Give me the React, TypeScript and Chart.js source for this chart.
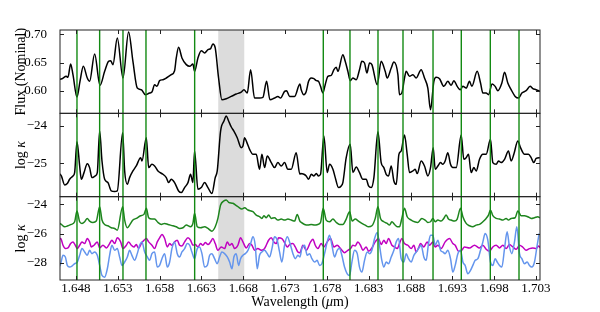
import React, { useEffect, useRef } from "react";
import { Chart, registerables } from "chart.js";

Chart.register(...registerables);

const FONT = "'Liberation Serif', 'DejaVu Serif', serif";

// ---- axes / ticks ----
const xRange = [1.64609, 1.70348];
const xTickValues = [1.648, 1.653, 1.658, 1.663, 1.668, 1.673, 1.678, 1.683, 1.688, 1.693, 1.698, 1.703];
const fluxRange = [0.55988, 0.70762];
const fluxTicks = [0.6, 0.65, 0.7];
const kappaRange = [-25.8875, -23.671];
const kappaTicks = [-25, -24];
const opacRange = [-29.185, -23.477];
const opacTicks = [-28, -26, -24];

// ---- marked lines and shaded band (wavelength, micron) ----
const lineCenters = [1.64812, 1.65083, 1.65362, 1.65637, 1.66219, 1.67757, 1.68076, 1.68411, 1.6871, 1.69069, 1.69407, 1.69754, 1.70097];
const bandEdges = [1.66501, 1.66812];

// ---- panel 1: flux ----
const fluxWave = [
  1.64585, 1.64633, 1.64684, 1.64704, 1.64736, 1.64764, 1.64812, 1.64848, 1.64888, 1.64935,
  1.64963, 1.65023, 1.65087, 1.65143, 1.6519, 1.65214, 1.65242, 1.65294, 1.65362, 1.65429,
  1.65481, 1.65533, 1.65581, 1.65629, 1.6568, 1.65708, 1.6574, 1.65768, 1.658, 1.6584,
  1.6588, 1.65939, 1.65979, 1.65999, 1.66027, 1.66067, 1.66119, 1.66159, 1.66198, 1.66218,
  1.66258, 1.66298, 1.66338, 1.66378, 1.6641, 1.66437, 1.66465, 1.66505, 1.66545, 1.66597,
  1.66657, 1.66716, 1.66776, 1.66808, 1.66848, 1.66888, 1.66935, 1.66995, 1.67035, 1.67079,
  1.67119, 1.67174, 1.67214, 1.67246, 1.67294, 1.67318, 1.67354, 1.67414, 1.67477,
  1.67493, 1.67525, 1.67553, 1.67581, 1.67613, 1.67645, 1.67673, 1.677, 1.67724, 1.67752,
  1.6778, 1.67812, 1.67852, 1.67884, 1.67912, 1.67932, 1.67991, 1.68019, 1.68051, 1.68079,
  1.68111, 1.68151, 1.6819, 1.68218, 1.6825, 1.68278, 1.6831, 1.68338, 1.68402, 1.68449,
  1.68497, 1.68521, 1.68569, 1.68601, 1.68649, 1.68668, 1.68696, 1.68728, 1.68748, 1.68788,
  1.68828, 1.68868, 1.68927, 1.68967, 1.69007, 1.69039, 1.69079, 1.69107, 1.69147, 1.69198,
  1.69246, 1.69286, 1.69318, 1.69358, 1.69394, 1.69426, 1.69465, 1.69505, 1.69533, 1.69597,
  1.69637, 1.69665, 1.69704, 1.69732, 1.69776, 1.69812, 1.69844, 1.69892, 1.69924, 1.69963,
  1.70003, 1.70051, 1.70091, 1.70131, 1.70182, 1.7023, 1.70262, 1.70302, 1.70346,
];
const fluxValue = [
  0.6195, 0.6213, 0.6255, 0.6237, 0.6474, 0.6284, 0.5888, 0.6166, 0.6432, 0.6225,
  0.6166, 0.6651, 0.6095, 0.6343, 0.6521, 0.6533, 0.6462, 0.6935, 0.6225, 0.7042,
  0.6521, 0.6047, 0.6018, 0.5929, 0.5959, 0.5976, 0.6107, 0.6077, 0.6178, 0.6195,
  0.6225, 0.6284, 0.6355, 0.658, 0.677, 0.658, 0.6462, 0.6432, 0.6474, 0.6343,
  0.658, 0.671, 0.6669, 0.6728, 0.6746, 0.6829, 0.6758, 0.6225, 0.584, 0.5858,
  0.5899, 0.5941, 0.5976, 0.6018, 0.5959, 0.6373, 0.587, 0.587, 0.5882, 0.6166,
  0.584, 0.587, 0.5899, 0.587, 0.5988, 0.6, 0.5899, 0.5899, 0.6118,
  0.6018, 0.5929, 0.5988, 0.6166, 0.6225, 0.6213, 0.6178, 0.6166, 0.6077, 0.5959,
  0.6107, 0.6255, 0.6272, 0.6373, 0.6414, 0.6343, 0.6639, 0.6521, 0.6343, 0.6178,
  0.6225, 0.6195, 0.6373, 0.6521, 0.6491, 0.6314, 0.6491, 0.6462, 0.6107, 0.6521,
  0.6343, 0.6225, 0.6403, 0.6509, 0.6284, 0.5929, 0.5959, 0.6225, 0.6343, 0.6255,
  0.6284, 0.6225, 0.6373, 0.6225, 0.6047, 0.5663, 0.6166, 0.6237, 0.6213, 0.6077,
  0.6166, 0.6095, 0.6178, 0.6077, 0.6018, 0.6077, 0.6047, 0.6166, 0.6077, 0.6343,
  0.6136, 0.5959, 0.5959, 0.5929, 0.6118, 0.6077, 0.6, 0.6136, 0.6326, 0.6136,
  0.6018, 0.5899, 0.587, 0.5959, 0.6, 0.6077, 0.6036, 0.6018, 0.5988,
];

// ---- panel 2: total log kappa ----
const kappaWave = [
  1.64585, 1.64625, 1.64665, 1.64696, 1.64724, 1.64764, 1.64784, 1.64812, 1.64844, 1.64864,
  1.64896, 1.64935, 1.64963, 1.64991, 1.65031, 1.65055, 1.65083, 1.65111, 1.65143, 1.65182,
  1.65222, 1.65262, 1.65294, 1.65358, 1.65382, 1.65414, 1.65441, 1.65481, 1.65521, 1.65573,
  1.65589, 1.65641, 1.65669, 1.65708, 1.6574, 1.6578, 1.6584, 1.6588, 1.65908, 1.65939,
  1.65979, 1.66027, 1.66059, 1.66099, 1.66139, 1.6617, 1.66198, 1.66218, 1.66258, 1.66298,
  1.66338, 1.66378, 1.66425, 1.66465, 1.66489, 1.66529, 1.66569, 1.66597, 1.66625, 1.66657,
  1.66688, 1.66728, 1.66776, 1.66796, 1.66816, 1.66844, 1.66876, 1.66916, 1.66955, 1.66995,
  1.67023, 1.67055, 1.67087, 1.67135, 1.67174, 1.67214, 1.67254, 1.67294, 1.67334, 1.67374,
  1.67433, 1.67477,
  1.67485, 1.67525, 1.67553, 1.67581, 1.67613, 1.67645, 1.67673, 1.677, 1.67724, 1.67764,
  1.67804, 1.67832, 1.67872, 1.679, 1.67939, 1.67971, 1.67991, 1.68031, 1.68079, 1.68111,
  1.68151, 1.6819, 1.6823, 1.6827, 1.68298, 1.6833, 1.68362, 1.6841, 1.68449, 1.68481,
  1.68509, 1.68537, 1.68569, 1.68601, 1.68629, 1.68661, 1.68688, 1.68728, 1.6876, 1.68788,
  1.68828, 1.68856, 1.6888, 1.68927, 1.68967, 1.69007, 1.69039, 1.69071, 1.69095, 1.69127,
  1.69159, 1.69186, 1.69214, 1.69246, 1.69278, 1.69306, 1.69346, 1.69406, 1.69437, 1.69465,
  1.69493, 1.69525, 1.69557, 1.69585, 1.69625, 1.69665, 1.69704, 1.69756, 1.69784, 1.69824,
  1.69852, 1.69884, 1.69924, 1.69971, 1.70003, 1.70035, 1.70083, 1.70115, 1.70163, 1.7021,
  1.70242, 1.70274, 1.70302, 1.70346,
];
const kappaValue = [
  -25.248, -25.336, -25.575, -25.54, -25.425, -25.336, -25.248, -24.425, -25.071, -25.425,
  -25.248, -25.009, -25.115, -25.381, -25.336, -25.248, -24.142, -24.938, -25.425, -25.513,
  -25.735, -25.752, -25.735, -24.186, -25.204, -25.558, -25.381, -25.204, -25.071, -24.85,
  -24.938, -24.319, -25.115, -25.027, -25.071, -25.204, -25.292, -25.381, -25.513, -25.425,
  -25.513, -25.735, -25.779, -25.646, -25.513, -25.292, -25.513, -24.673, -25.69, -25.646,
  -25.513, -25.646, -25.805, -25.381, -25.204, -24.142, -23.876, -23.743, -23.876, -24.035,
  -24.142, -24.319, -24.584, -24.54, -24.319, -24.451, -24.628, -24.761, -24.761, -25.159,
  -24.761, -25.115, -24.805, -24.982, -25.115, -24.982, -25.071, -24.982, -25.159, -25.159,
  -24.717, -25.292,
  -25.274, -25.292, -25.336, -25.425, -25.292, -25.336, -25.274, -25.336, -25.292, -24.274,
  -25.248, -25.027, -25.159, -25.381, -25.646, -25.602, -25.513, -24.85, -24.496, -25.248,
  -25.097, -25.248, -25.425, -25.425, -25.602, -25.646, -25.381, -24.159, -24.982, -25.115,
  -25.292, -25.336, -25.071, -25.469, -25.558, -24.761, -24.673, -24.248, -24.761, -25.248,
  -25.204, -25.159, -25.274, -24.938, -25.071, -25.336, -25.115, -24.584, -25.159, -25.071,
  -24.982, -25.027, -24.938, -24.717, -25.027, -25.115, -25.115, -24.248, -24.894, -24.85,
  -24.761, -25.248, -25.115, -25.204, -24.894, -24.761, -24.761, -24.363, -24.982, -25.027,
  -24.938, -24.982, -24.894, -24.673, -24.938, -24.761, -24.407, -24.584, -24.761, -24.761,
  -24.85, -24.982, -24.867, -24.85,
];

// ---- panel 3: individual opacity sources ----
const greenWave = [
  1.64585, 1.64625, 1.64665, 1.64704, 1.64744, 1.64784, 1.64812, 1.64844, 1.64872, 1.64904,
  1.64935, 1.64963, 1.65003, 1.65043, 1.65083, 1.65111, 1.65143, 1.65182, 1.65222, 1.65262,
  1.65294, 1.65358, 1.65382, 1.65414, 1.65441, 1.65481, 1.65521, 1.65573, 1.65613, 1.65641,
  1.65669, 1.65708, 1.6574, 1.6578, 1.6582, 1.6586, 1.659, 1.65959, 1.65999, 1.66039,
  1.66079, 1.66119, 1.6617, 1.66198, 1.66218, 1.6625, 1.6629, 1.66338, 1.66378, 1.66425,
  1.66465, 1.66497, 1.66529, 1.66569, 1.66597, 1.66625, 1.66676, 1.66736, 1.66784, 1.66816,
  1.66856, 1.66916, 1.66955, 1.66995, 1.67023, 1.67047, 1.67075, 1.67103, 1.67135, 1.67174,
  1.67214, 1.67254, 1.67294, 1.67334, 1.67374, 1.67414, 1.67445, 1.67477,
  1.67493, 1.67533, 1.67573, 1.67613, 1.67653, 1.67692, 1.67724, 1.67756, 1.67792, 1.67832,
  1.67872, 1.67912, 1.67951, 1.67991, 1.68031, 1.68071, 1.68103, 1.68139, 1.68178, 1.68218,
  1.68258, 1.68298, 1.68338, 1.68378, 1.6841, 1.68441, 1.68481, 1.68521, 1.68549, 1.68577,
  1.68609, 1.68641, 1.68668, 1.68696, 1.68728, 1.6876, 1.68808, 1.68848, 1.68888, 1.68935,
  1.68975, 1.69007, 1.69039, 1.69067, 1.69095, 1.69127, 1.69166, 1.69198, 1.69226, 1.69254,
  1.69286, 1.69326, 1.69358, 1.69398, 1.69426, 1.69465, 1.69505, 1.69545, 1.69585, 1.69625,
  1.69665, 1.69704, 1.69732, 1.69756, 1.69784, 1.69824, 1.69864, 1.69904, 1.69943, 1.69971,
  1.70003, 1.70051, 1.70083, 1.70123, 1.70163, 1.70202, 1.70242, 1.70282, 1.70322, 1.70346,
];
const greenValue = [
  -25.241, -25.379, -25.54, -25.471, -25.379, -25.195, -24.46, -25.195, -25.31, -25.195,
  -24.966, -25.149, -25.241, -25.149, -24.161, -25.08, -25.379, -25.471, -25.609, -25.655,
  -25.77, -24.161, -25.08, -25.609, -25.425, -25.08, -24.966, -24.782, -24.69, -24.276,
  -24.92, -25.011, -25.011, -25.241, -25.379, -25.31, -25.379, -25.471, -25.54, -25.655,
  -25.609, -25.425, -25.54, -25.31, -24.621, -25.54, -25.609, -25.54, -25.655, -25.839,
  -25.54, -24.966, -24.046, -23.77, -23.701, -23.862, -23.931, -24.161, -24.322, -24.23,
  -24.391, -24.506, -24.736, -24.851, -24.966, -24.782, -24.92, -24.736, -24.966, -24.92,
  -25.08, -25.011, -25.08, -25.011, -25.08, -25.149, -24.69, -25.149,
  -25.241, -25.379, -25.425, -25.379, -25.425, -25.379, -25.241, -24.276, -25.08, -25.195,
  -25.011, -25.241, -25.379, -25.379, -25.011, -24.506, -25.149, -25.011, -25.149, -25.31,
  -25.425, -25.54, -25.471, -24.966, -24.161, -24.966, -25.195, -25.31, -25.425, -25.195,
  -25.379, -25.54, -25.54, -24.966, -24.276, -24.851, -25.08, -25.195, -25.241, -24.966,
  -25.08, -25.241, -25.195, -24.966, -25.195, -25.08, -25.149, -24.966, -24.736, -25.011,
  -25.08, -25.149, -25.011, -24.276, -24.851, -25.31, -25.471, -25.54, -25.425, -25.379,
  -25.195, -24.966, -24.736, -24.391, -24.782, -24.966, -25.011, -25.08, -24.966, -25.08,
  -24.966, -24.92, -24.46, -24.782, -24.782, -24.851, -24.966, -24.92, -24.851, -24.92,
];

const magentaWave = [
  1.64585, 1.64617, 1.64645, 1.64673, 1.64704, 1.64736, 1.64764, 1.64792, 1.64816, 1.64844,
  1.64872, 1.64904, 1.64935, 1.64963, 1.64983, 1.65015, 1.65055, 1.65083, 1.65123, 1.65163,
  1.65202, 1.6523, 1.65262, 1.65294, 1.65334, 1.65362, 1.65402, 1.65429, 1.65461, 1.65493,
  1.65521, 1.65549, 1.65581, 1.65613, 1.65641, 1.65669, 1.65708, 1.6574, 1.65772, 1.658,
  1.65828, 1.6586, 1.65892, 1.6592, 1.65947, 1.65979, 1.66011, 1.66039, 1.66067, 1.66099,
  1.66139, 1.6617, 1.66198, 1.66226, 1.66258, 1.6629, 1.66318, 1.66346, 1.66378, 1.6641,
  1.66437, 1.66465, 1.66497, 1.66537, 1.66577, 1.66609, 1.66637, 1.66665, 1.66696, 1.66736,
  1.66768, 1.66796, 1.66836, 1.66876, 1.66904, 1.66935, 1.66975, 1.67015, 1.67047, 1.67075,
  1.67103, 1.67135, 1.67166, 1.67194, 1.67222, 1.67262, 1.67294, 1.67326, 1.67354, 1.67394,
  1.67422, 1.67453, 1.67477,
  1.67513, 1.67553, 1.67605, 1.67633, 1.67661, 1.67692, 1.67732, 1.67764, 1.67804, 1.67844,
  1.67884, 1.67923, 1.67963, 1.68011, 1.68051, 1.68083, 1.68111, 1.68139, 1.6817, 1.68202,
  1.6823, 1.6827, 1.68298, 1.68338, 1.68378, 1.68417, 1.68449, 1.68481, 1.68509, 1.68537,
  1.68577, 1.68609, 1.68641, 1.68668, 1.68696, 1.68728, 1.68768, 1.68808, 1.6884, 1.68868,
  1.68896, 1.68919, 1.68959, 1.68999, 1.69027, 1.69067, 1.69095, 1.69127, 1.69166, 1.69214,
  1.69266, 1.69306, 1.69334, 1.69374, 1.69413, 1.69445, 1.69505, 1.69565, 1.69625, 1.69665,
  1.69704, 1.69744, 1.69784, 1.69824, 1.69864, 1.69904, 1.69943, 1.69983, 1.70023, 1.70063,
  1.70103, 1.70143, 1.70182, 1.70222, 1.70262, 1.70302, 1.7033, 1.70346,
];
const magentaValue = [
  -26.46, -26.345, -26.805, -27.034, -26.989, -26.69, -26.575, -26.805, -27.034, -26.805,
  -26.575, -26.69, -26.345, -26.575, -26.92, -26.805, -26.575, -26.989, -26.805, -26.989,
  -26.69, -26.46, -26.69, -26.299, -26.575, -27.034, -26.805, -26.575, -26.805, -26.92,
  -26.759, -27.034, -26.69, -26.46, -26.345, -26.575, -26.805, -27.034, -26.575, -26.299,
  -26.069, -26.345, -26.92, -26.69, -26.805, -26.575, -26.46, -26.805, -26.851, -26.575,
  -26.299, -26.46, -26.805, -26.759, -26.92, -26.69, -26.805, -26.621, -26.759, -26.575,
  -26.345, -26.69, -27.149, -26.92, -27.034, -26.575, -26.805, -26.69, -27.034, -26.805,
  -26.299, -26.575, -26.989, -26.69, -26.805, -27.149, -27.034, -27.149, -27.08, -26.805,
  -26.46, -26.299, -26.575, -26.69, -26.299, -26.345, -26.621, -26.92, -26.759, -26.69,
  -26.92, -27.264, -27.31,
  -26.805, -27.149, -26.575, -26.391, -26.805, -27.034, -26.69, -26.92, -26.575, -26.345,
  -26.92, -26.805, -27.034, -27.31, -27.149, -27.034, -26.805, -26.851, -26.575, -26.805,
  -27.149, -26.92, -27.218, -26.989, -26.575, -26.345, -26.759, -26.46, -26.69, -26.345,
  -26.805, -26.92, -27.034, -26.69, -26.345, -26.69, -26.805, -27.034, -26.805, -27.264,
  -26.989, -26.69, -26.92, -26.575, -26.805, -26.575, -26.92, -26.805, -27.034, -26.575,
  -26.345, -26.69, -26.805, -27.218, -27.149, -26.92, -26.989, -26.805, -26.989, -26.805,
  -27.08, -27.218, -26.92, -26.805, -26.989, -26.805, -27.034, -26.759, -26.92, -27.08,
  -26.805, -26.943, -27.149, -27.034, -26.989, -27.034, -26.851, -26.966,
];

const blueWave = [
  1.64585, 1.64617, 1.64645, 1.64673, 1.64696, 1.64724, 1.64752, 1.64784, 1.64816, 1.64844,
  1.64872, 1.64904, 1.64935, 1.64963, 1.64991, 1.65023, 1.65055, 1.65083, 1.65111, 1.65143,
  1.65175, 1.65202, 1.6523, 1.65262, 1.65294, 1.65322, 1.6535, 1.65382, 1.65414, 1.65441,
  1.65469, 1.65501, 1.65533, 1.65561, 1.65589, 1.65621, 1.65653, 1.6568, 1.65708, 1.6574,
  1.65772, 1.658, 1.65828, 1.6586, 1.65892, 1.6592, 1.65947, 1.65979, 1.66011, 1.66039,
  1.66067, 1.66099, 1.66131, 1.66159, 1.66186, 1.66218, 1.6625, 1.66278, 1.66306, 1.66338,
  1.6637, 1.66398, 1.66425, 1.66457, 1.66489, 1.66517, 1.66545, 1.66577, 1.66609, 1.66637,
  1.66665, 1.66688, 1.66716, 1.66744, 1.66768, 1.66796, 1.66824, 1.66856, 1.66888, 1.66916,
  1.66943, 1.66967, 1.66995, 1.67023, 1.67055, 1.67087, 1.67115, 1.67143, 1.67174, 1.67206,
  1.67234, 1.67262, 1.67294, 1.67326, 1.67354, 1.67394, 1.67422, 1.67453, 1.67477,
  1.67501, 1.67533, 1.67565, 1.67593, 1.67621, 1.67653, 1.67684, 1.67712, 1.6774, 1.67772,
  1.67804, 1.67832, 1.6786, 1.67892, 1.67923, 1.67951, 1.67979, 1.68011, 1.68043, 1.68071,
  1.68099, 1.68131, 1.68163, 1.6819, 1.68218, 1.6825, 1.68282, 1.6831, 1.68338, 1.6837,
  1.68402, 1.68429, 1.68457, 1.68481, 1.68509, 1.68537, 1.68569, 1.68601, 1.68629, 1.68657,
  1.68688, 1.6872, 1.68748, 1.68776, 1.68808, 1.6884, 1.68868, 1.68896, 1.68927, 1.68959,
  1.68987, 1.69015, 1.69039, 1.69067, 1.69095, 1.69127, 1.69159, 1.69186, 1.69214, 1.69246,
  1.69278, 1.69306, 1.69334, 1.69366, 1.69398, 1.69426, 1.69453, 1.69485, 1.69517, 1.69545,
  1.69573, 1.69605, 1.69637, 1.69665, 1.69692, 1.69724, 1.69756, 1.69784, 1.69812, 1.69836,
  1.69864, 1.69892, 1.69924, 1.69955, 1.69983, 1.70011, 1.70043, 1.70071, 1.70103, 1.70131,
  1.70163, 1.70194, 1.70222, 1.7025, 1.70282, 1.70314, 1.70338,
];
const blueValue = [
  -28.414, -28.069, -27.494, -27.609, -28.184, -28.299, -28.23, -28.069, -27.954, -27.494,
  -27.034, -27.264, -27.494, -27.149, -27.379, -27.264, -27.494, -28.184, -28.874, -28.989,
  -28.414, -27.494, -26.805, -27.149, -27.034, -27.609, -28.184, -27.954, -27.609, -27.149,
  -27.494, -27.839, -27.379, -26.805, -26.575, -27.264, -27.609, -27.839, -27.379, -27.264,
  -28.299, -28.184, -27.724, -27.379, -28.299, -27.954, -27.034, -26.575, -27.379, -27.609,
  -27.264, -27.034, -26.69, -26.805, -27.264, -27.724, -27.034, -26.92, -27.379, -28.299,
  -28.184, -27.494, -27.379, -27.724, -28.069, -27.609, -27.264, -27.379, -27.609, -27.954,
  -28.414, -27.609, -27.379, -28.184, -27.724, -27.494, -27.379, -27.149, -26.69, -26.23,
  -26.805, -28.414, -27.494, -27.264, -27.149, -27.379, -27.609, -27.034, -26.23, -26.46,
  -27.264, -27.954, -26.805, -26.23, -26.575, -27.379, -27.724, -27.494, -27.609,
  -27.034, -26.805, -27.494, -27.379, -27.724, -27.954, -27.839, -28.184, -28.069, -27.379,
  -26.575, -26.115, -26.805, -27.609, -27.149, -27.034, -27.494, -28.299, -28.759, -28.874,
  -27.954, -27.149, -27.379, -28.299, -28.644, -27.839, -27.264, -27.379, -27.149, -26.345,
  -25.931, -26.805, -27.839, -28.299, -27.954, -28.069, -27.609, -27.149, -26.575, -26.345,
  -27.724, -27.954, -27.379, -27.724, -27.954, -27.494, -27.264, -27.034, -26.805, -27.609,
  -27.839, -26.69, -26.115, -26.115, -26.805, -26.46, -27.149, -27.264, -27.379, -27.149,
  -27.724, -28.644, -28.184, -27.379, -27.149, -27.954, -28.184, -28.759, -28.529, -28.184,
  -27.839, -27.724, -27.149, -26.575, -26.0, -26.46, -27.954, -28.184, -27.724, -27.954,
  -28.184, -28.299, -27.034, -25.885, -26.92, -27.379, -26.575, -25.54, -27.379, -27.724,
  -28.069, -27.954, -28.184, -28.299, -27.954, -26.805, -26.0,
];

const zip = (w: number[], v: number[]) => w.map((x, i) => ({ x, y: v[i] }));

type Part = { t: string; it?: boolean };
function drawRich(ctx: CanvasRenderingContext2D, parts: Part[], x: number, y: number, size: number, rotate: boolean) {
  ctx.save();
  ctx.translate(x, y);
  if (rotate) ctx.rotate(-Math.PI / 2);
  ctx.fillStyle = "#000";
  ctx.textBaseline = "middle";
  ctx.textAlign = "left";
  const fonts = parts.map((p) => `${p.it ? "italic " : ""}${size}px ${FONT}`);
  let total = 0;
  const widths = parts.map((p, i) => {
    ctx.font = fonts[i];
    const w = ctx.measureText(p.t).width;
    total += w;
    return w;
  });
  let cx = -total / 2;
  parts.forEach((p, i) => {
    ctx.font = fonts[i];
    ctx.fillText(p.t, cx, 0);
    cx += widths[i];
  });
  ctx.restore();
}

const decorPlugin = {
  id: "decor",
  beforeDatasetsDraw(chart: any) {
    const { ctx, chartArea, scales } = chart;
    const x0 = scales.x.getPixelForValue(bandEdges[0]);
    const x1 = scales.x.getPixelForValue(bandEdges[1]);
    ctx.save();
    ctx.fillStyle = "#dcdcdc";
    ctx.fillRect(x0, chartArea.top, x1 - x0, chartArea.bottom - chartArea.top);
    ctx.restore();
  },
  afterDatasetsDraw(chart: any) {
    const { ctx, chartArea, scales } = chart;
    const xs = scales.x;
    ctx.save();
    ctx.strokeStyle = "#138a13";
    ctx.lineWidth = 1.4;
    for (const w of lineCenters) {
      const px = xs.getPixelForValue(w);
      ctx.beginPath();
      ctx.moveTo(px, chartArea.top);
      ctx.lineTo(px, chartArea.bottom);
      ctx.stroke();
    }
    ctx.strokeStyle = "#222";
    ctx.lineWidth = 1;
    const L = chartArea.left, R = chartArea.right;
    for (const id of ["y1", "y2", "y3"]) {
      const s = scales[id];
      const top = s.top, bottom = s.bottom;
      ctx.strokeRect(L, top, R - L, bottom - top);
      ctx.beginPath();
      for (const v of xTickValues) {
        const px = Math.round(xs.getPixelForValue(v)) + 0.5;
        ctx.moveTo(px, top);
        ctx.lineTo(px, top + 4);
        ctx.moveTo(px, bottom);
        ctx.lineTo(px, bottom - 4);
      }
      for (const t of s.ticks) {
        const py = Math.round(s.getPixelForValue(t.value)) + 0.5;
        ctx.moveTo(L, py);
        ctx.lineTo(L + 4, py);
        ctx.moveTo(R, py);
        ctx.lineTo(R - 4, py);
      }
      ctx.stroke();
    }
    ctx.restore();
  },
  afterDraw(chart: any) {
    const { ctx, scales, chartArea } = chart;
    const xs = scales.x;
    ctx.save();
    ctx.fillStyle = "#000";
    ctx.font = `13px ${FONT}`;
    ctx.textAlign = "center";
    ctx.textBaseline = "middle";
    for (const v of xTickValues) {
      ctx.fillText(v.toFixed(3), xs.getPixelForValue(v), chartArea.bottom + 8.5);
    }
    ctx.restore();
    const mid = (s: any) => (s.top + s.bottom) / 2;
    drawRich(ctx, [{ t: "Flux (Nominal)" }], 21, mid(scales.y1), 14, true);
    drawRich(ctx, [{ t: "log " }, { t: "\u03ba", it: true }], 21, mid(scales.y2), 14, true);
    drawRich(ctx, [{ t: "log " }, { t: "\u03ba", it: true }], 21, mid(scales.y3), 14, true);
    drawRich(ctx, [{ t: "Wavelength (" }, { t: "\u03bc", it: true }, { t: "m)" }], 300, 302, 14, false);
  },
};

const minusFmt = (v: number) => (v < 0 ? "\u2212" + Math.abs(v) : String(v));

function yScale(range: number[], ticks: number[], weight: number, fmt: (v: number) => string) {
  return {
    type: "linear",
    position: "left",
    stack: "panels",
    stackWeight: 1,
    weight,
    min: range[0],
    max: range[1],
    grid: { display: false },
    border: { display: false },
    afterBuildTicks: (s: any) => {
      s.ticks = ticks.map((value) => ({ value }));
    },
    afterFit: (s: any) => {
      s.width = 60;
    },
    ticks: {
      autoSkip: false,
      padding: 5,
      color: "#000",
      font: { family: FONT, size: 13 },
      callback: (v: any) => fmt(Number(v)),
    },
  };
}

export default function App() {
  const ref = useRef<HTMLCanvasElement | null>(null);
  useEffect(() => {
    if (!ref.current) return;
    const common = { pointRadius: 0, borderWidth: 1.5, cubicInterpolationMode: "monotone", fill: false };
    const chart = new Chart(ref.current, {
      type: "line",
      data: {
        datasets: [
          { ...common, data: zip(fluxWave, fluxValue), borderColor: "#000", yAxisID: "y1", order: 0 },
          { ...common, data: zip(kappaWave, kappaValue), borderColor: "#000", yAxisID: "y2", order: 0 },
          { ...common, data: zip(blueWave, blueValue), borderColor: "#6495ed", yAxisID: "y3", order: 1 },
          { ...common, data: zip(magentaWave, magentaValue), borderColor: "#c000c0", yAxisID: "y3", order: 2 },
          { ...common, data: zip(greenWave, greenValue), borderColor: "#1e851e", yAxisID: "y3", order: 3 },
        ] as any,
      },
      options: {
        animation: false,
        responsive: false,
        devicePixelRatio: 1,
        events: [],
        layout: { padding: { top: 30, right: 60, left: 0, bottom: 0 } },
        plugins: { legend: { display: false }, tooltip: { enabled: false } },
        scales: {
          x: {
            type: "linear",
            position: "bottom",
            min: xRange[0],
            max: xRange[1],
            grid: { display: false },
            border: { display: false },
            afterBuildTicks: (s: any) => {
              s.ticks = xTickValues.map((value) => ({ value }));
            },
            afterFit: (s: any) => {
              s.height = 32;
            },
            ticks: { display: false },
          },
          y1: yScale(fluxRange, fluxTicks, 3, (v) => v.toFixed(2)),
          y2: yScale(kappaRange, kappaTicks, 2, minusFmt),
          y3: yScale(opacRange, opacTicks, 1, minusFmt),
        } as any,
      },
      plugins: [decorPlugin as any],
    });
    return () => chart.destroy();
  }, []);
  return (
    <div style={{ position: "absolute", left: 0, top: 0, width: 600, height: 312, background: "#fff" }}>
      <canvas ref={ref} width={600} height={312} style={{ display: "block", width: 600, height: 312 }} />
    </div>
  );
}
